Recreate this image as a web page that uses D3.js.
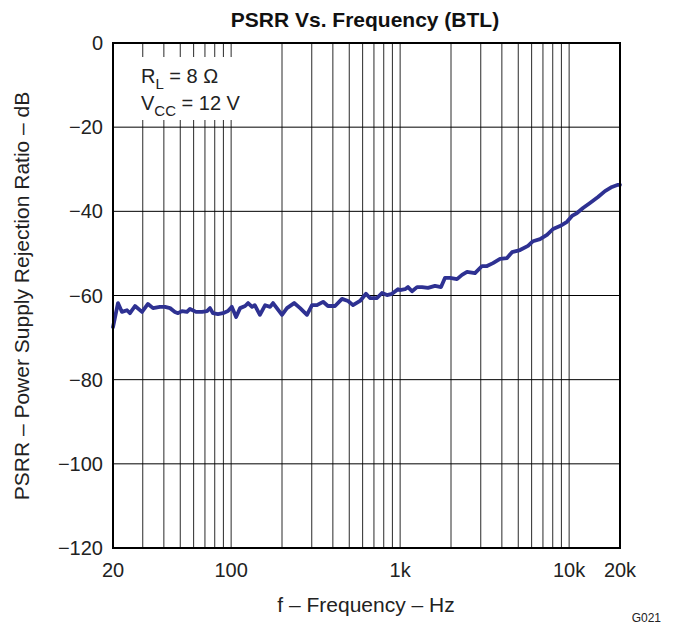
<!DOCTYPE html>
<html>
<head>
<meta charset="utf-8">
<script src="https://cdn.jsdelivr.net/npm/d3@7/dist/d3.min.js"></script>
<style>
  html, body { margin: 0; padding: 0; background: #fff; }
  svg { display: block; font-family: "Liberation Sans", Arial, Helvetica, sans-serif; }
</style>
</head>
<body>
<svg id="chart" width="674" height="634"></svg>
<script>
// ---- data ----
const freqHz = [20, 21.4, 22.6, 24.2, 25.2, 27.0, 29.7, 32.2, 34.5, 37.9, 40.6, 43.5, 46.5, 48.5, 51.2, 54.8, 57.1, 62.0, 67.3, 72.0, 75.0, 78.1, 83.6, 89.5, 95.8, 101, 107, 113, 121, 126, 133, 138, 148, 159, 170, 177, 200, 214, 236, 256, 281, 301, 322, 350, 374, 412, 453, 492, 526, 579, 628, 663, 730, 781, 836, 895, 971, 998, 1069, 1113, 1176, 1259, 1347, 1462, 1608, 1746, 1844, 1973, 2170, 2324, 2488, 2773, 3051, 3266, 3544, 3900, 4290, 4593, 5122, 5710, 6114, 6726, 7396, 8030, 8831, 9713, 10400, 11134, 12080, 13288, 14820, 16302, 17935, 19462, 20000];
const psrrDb = [-67.5, -61.8, -63.9, -63.5, -64.2, -62.5, -63.9, -62.0, -63.0, -62.7, -62.7, -63.0, -63.9, -64.2, -63.7, -63.9, -63.2, -63.9, -63.9, -63.7, -63.0, -64.2, -64.4, -64.2, -63.7, -62.7, -65.1, -63.0, -62.5, -61.8, -62.7, -62.3, -64.6, -62.3, -62.7, -61.8, -64.6, -63.0, -61.8, -63.0, -64.6, -62.3, -62.3, -61.5, -62.5, -62.5, -60.8, -61.3, -62.3, -61.3, -59.6, -60.6, -60.6, -59.4, -59.9, -59.6, -58.5, -58.7, -58.5, -58.0, -59.0, -58.0, -58.0, -58.2, -57.7, -58.0, -55.8, -55.8, -56.1, -55.1, -54.4, -54.7, -53.0, -53.0, -52.3, -51.3, -51.1, -49.7, -49.2, -48.2, -47.1, -46.6, -45.6, -44.2, -43.5, -42.5, -41.1, -40.4, -39.2, -38.0, -36.6, -35.2, -34.2, -33.7, -33.7];
const xTickValues = [20, 100, 1000, 10000, 20000];
const xTickLabels = ["20", "100", "1k", "10k", "20k"];
const xGridValues = [30, 40, 50, 60, 70, 80, 90, 100, 200, 300, 400, 500, 600, 700, 800, 900, 1000, 2000, 3000, 4000, 5000, 6000, 7000, 8000, 9000, 10000];
const yTickValues = [0, -20, -40, -60, -80, -100, -120];
const yTickLabels = ["0", "\u221220", "\u221240", "\u221260", "\u221280", "\u2212100", "\u2212120"];
const titleText = "PSRR Vs. Frequency (BTL)";
const xLabelText = "f \u2013 Frequency \u2013 Hz";
const yLabelText = "PSRR \u2013 Power Supply Rejection Ratio \u2013 dB";

// ---- layout ----
const svg = d3.select("#chart");
const L = 113, R = 620, T = 43, B = 548;
const x = d3.scaleLog().domain([20, 20000]).range([L, R]);
const y = d3.scaleLinear().domain([-120, 0]).range([B, T]);

// grid
const g = svg.append("g");
g.selectAll("line.vg").data(xGridValues).enter().append("line")
  .attr("x1", d => x(d)).attr("x2", d => x(d)).attr("y1", T).attr("y2", B)
  .attr("stroke", "#2a2a2a").attr("stroke-width", 1);
g.selectAll("line.hg").data(yTickValues).enter().append("line")
  .attr("x1", L).attr("x2", R).attr("y1", d => y(d)).attr("y2", d => y(d))
  .attr("stroke", "#000").attr("stroke-width", 1);

// annotation white box
svg.append("rect").attr("x", 134).attr("y", 57).attr("width", 118).attr("height", 63).attr("fill", "#fff");

// curve
const line = d3.line().x((d, i) => x(freqHz[i])).y(d => y(d));
svg.append("path").datum(psrrDb)
  .attr("d", line).attr("fill", "none")
  .attr("stroke", "#2e3192").attr("stroke-width", 3.8)
  .attr("stroke-linejoin", "round").attr("stroke-linecap", "round");

// frame
svg.append("rect").attr("x", L).attr("y", T).attr("width", R - L).attr("height", B - T)
  .attr("fill", "none").attr("stroke", "#000").attr("stroke-width", 2);

// axes tick labels
svg.selectAll("text.xt").data(xTickValues).enter().append("text")
  .attr("x", d => x(d)).attr("y", 577).attr("text-anchor", "middle")
  .attr("font-size", 20).attr("fill", "#222").text((d, i) => xTickLabels[i]);
svg.selectAll("text.yt").data(yTickValues).enter().append("text")
  .attr("x", 103).attr("y", d => y(d) + 7).attr("text-anchor", "end")
  .attr("font-size", 20).attr("fill", "#222").text((d, i) => yTickLabels[i]);

// title
svg.append("text").attr("x", 365).attr("y", 27).attr("text-anchor", "middle")
  .attr("font-size", 21).attr("font-weight", "bold").attr("fill", "#111").text(titleText);
// axis labels
svg.append("text").attr("x", 366).attr("y", 612).attr("text-anchor", "middle")
  .attr("font-size", 21).attr("fill", "#222").text(xLabelText);
svg.append("text").attr("transform", "translate(29,296) rotate(-90)").attr("text-anchor", "middle")
  .attr("font-size", 21).attr("fill", "#222").text(yLabelText);
svg.append("text").attr("x", 661).attr("y", 622).attr("text-anchor", "end")
  .attr("font-size", 12).attr("fill", "#222").text("G021");

// annotation text
const a1 = svg.append("text").attr("x", 141).attr("y", 83).attr("font-size", 20).attr("fill", "#222");
a1.append("tspan").text("R");
a1.append("tspan").attr("font-size", 15).attr("dy", 6).text("L");
a1.append("tspan").attr("dy", -6).text(" = 8 \u03A9");
const a2 = svg.append("text").attr("x", 141).attr("y", 110).attr("font-size", 20).attr("fill", "#222");
a2.append("tspan").text("V");
a2.append("tspan").attr("font-size", 15).attr("dy", 6).text("CC");
a2.append("tspan").attr("dy", -6).text(" = 12 V");
</script>
</body>
</html>
